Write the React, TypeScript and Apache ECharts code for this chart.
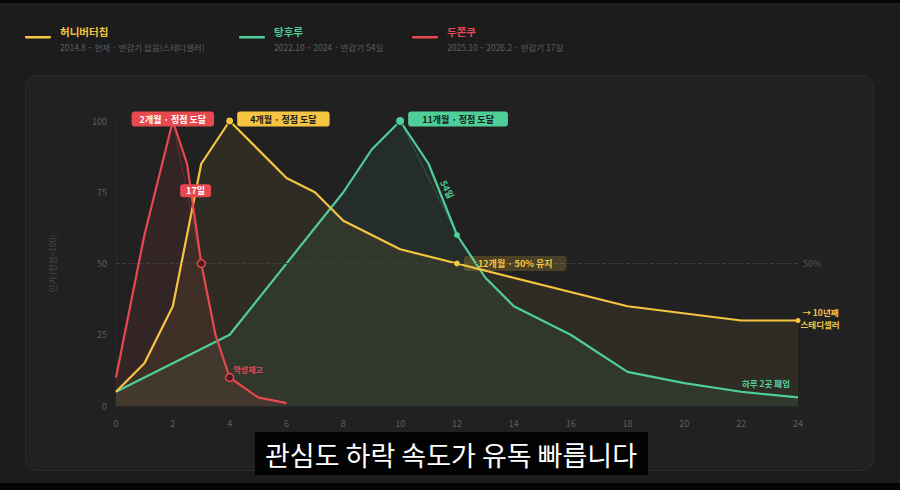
import * as echarts from "echarts";
import { useEffect, useRef } from "react";

// 허니버터칩
const honeyMonths = [0, 1, 2, 3, 4, 6, 7, 8, 10, 12, 18, 22, 24];
const honeyValues = [5, 15, 35, 85, 100, 80, 75, 65, 55, 50, 35, 30, 30];
// 탕후루
const tangMonths = [0, 4, 8, 9, 10, 11, 12, 13, 14, 16, 18, 20, 22, 24];
const tangValues = [5, 25, 75, 90, 100, 85, 60, 45, 35, 25, 12, 8, 5, 3];
// 두쫀쿠
const dujjonMonths = [0, 1, 2, 2.5, 3, 3.5, 4, 5, 6];
const dujjonValues = [10, 60, 100, 85, 50, 25, 10, 3, 1];

const xTicks = { min: 0, max: 24, interval: 2 };
const yTicks = { min: 0, max: 100, interval: 25 };

// 주석 위치
const peakPoints = [
  [2, 100],
  [4, 100],
  [10, 100],
];
const peakLabels = ["2개월 · 정점 도달", "4개월 · 정점 도달", "11개월 · 정점 도달"];
const halfPoints = [
  [3, 50], // 두쫀쿠 50%
  [12, 60], // 탕후루 54일
  [12, 50], // 허니버터칩 12개월
];
const halfTagPoints = [
  [2.8, 75.5],
  [11.65, 76],
];
const halfTagLabels = ["17일", "54일"];
const stockPoint = [4, 10];
const steadyPoint = [24, 30];
const closePoint = [24, 3];

const YELLOW = "#f5c542";
const GREEN = "#4fcf97";
const RED = "#e8484f";

const legendItems = [
  { name: "허니버터칩", sub: "2014.8 ~ 현재 · 반감기 없음(스테디셀러)", color: YELLOW, x: 25 },
  { name: "탕후루", sub: "2022.10 ~ 2024 · 반감기 54일", color: GREEN, x: 239 },
  { name: "두쫀쿠", sub: "2025.10 ~ 2026.2 · 반감기 17일", color: RED, x: 412 },
];

const FONT = "'Noto Sans CJK KR', 'Noto Sans', sans-serif";

const pairs = (xs: number[], ys: number[]) => xs.map((x, i) => [x, ys[i]]);

const App = () => {
  const chartRef = useRef<HTMLDivElement | null>(null);

  useEffect(() => {
    const chart = echarts.init(chartRef.current!, null, { renderer: "svg" });

    const lineSeries = (name: string, color: string, data: number[][], extra: any = {}) => ({
      name,
      type: "line",
      data,
      symbol: "none",
      lineStyle: { color, width: 2.2 },
      itemStyle: { color },
      areaStyle: { color, opacity: 0.07 },
      z: 3,
      ...extra,
    });

    const tag = (bg: string, fg: string) => ({
      show: true,
      backgroundColor: bg,
      color: fg,
      fontSize: 9,
      fontWeight: "bold",
      fontFamily: FONT,
      borderRadius: 3,
      padding: [3, 8],
    });

    // 산점 주석 (불투명도 1)
    const note = (data: number[][], size: number, item: any, label: any) => ({
      type: "scatter",
      z: 10,
      symbolSize: size,
      data,
      itemStyle: { opacity: 1, ...item },
      label,
    });

    const legendGraphics: any[] = [];
    legendItems.forEach((it) => {
      legendGraphics.push(
        { type: "rect", shape: { x: it.x, y: 36, width: 26, height: 2.6, r: 1 }, style: { fill: it.color } },
        {
          type: "text",
          x: it.x + 35,
          y: 31,
          style: { text: it.name, fill: it.color, font: `bold 10.5px ${FONT}`, verticalAlign: "middle" },
        },
        {
          type: "text",
          x: it.x + 35,
          y: 47,
          style: { text: it.sub, fill: "#5f5f5f", font: `8.5px ${FONT}`, verticalAlign: "middle" },
        }
      );
    });

    const option = {
      animation: false,
      backgroundColor: "#1c1c1c",
      textStyle: { fontFamily: FONT },
      grid: { left: 116, right: 102, top: 121, bottom: 84 },
      xAxis: {
        type: "value",
        ...xTicks,
        axisLine: { show: true, lineStyle: { color: "#2a2a2a" } },
        axisTick: { show: false },
        splitLine: { show: false },
        axisLabel: { color: "#5e5e5e", fontSize: 9, margin: 13 },
      },
      yAxis: {
        type: "value",
        ...yTicks,
        name: "인기 (정점=100)",
        nameLocation: "middle",
        nameGap: 60,
        nameTextStyle: { color: "#4a4a4a", fontSize: 8.5 },
        axisLine: { show: true, lineStyle: { color: "#2a2a2a" } },
        axisTick: { show: false },
        splitLine: { show: false },
        axisLabel: { color: "#5e5e5e", fontSize: 9, margin: 9 },
      },
      graphic: [
        { type: "rect", z: -10, shape: { x: 0, y: 0, width: 900, height: 3 }, style: { fill: "#050505" } },
        { type: "rect", z: -10, shape: { x: 0, y: 483, width: 900, height: 7 }, style: { fill: "#050505" } },
        {
          type: "rect",
          z: -10,
          shape: { x: 25.5, y: 75.5, width: 848, height: 395, r: 12 },
          style: { fill: "#212121", stroke: "#2c2c2c", lineWidth: 1 },
        },
        ...legendGraphics,
        {
          type: "rect",
          z: 50,
          shape: { x: 255, y: 432, width: 393, height: 43 },
          style: { fill: "rgba(0,0,0,0.92)" },
        },
        {
          type: "text",
          z: 51,
          x: 451,
          y: 454,
          style: {
            text: "관심도 하락 속도가 유독 빠릅니다",
            fill: "#ffffff",
            font: `27px ${FONT}`,
            align: "center",
            verticalAlign: "middle",
          },
        },
      ],
      series: [
        lineSeries("탕후루", GREEN, pairs(tangMonths, tangValues), {
          markLine: {
            silent: true,
            symbol: "none",
            label: { show: false },
            lineStyle: { color: "rgba(79,207,151,0.55)", type: "dotted", width: 1 },
            data: [[{ coord: peakPoints[2] }, { coord: halfPoints[1] }]],
          },
        }),
        lineSeries("허니버터칩", YELLOW, pairs(honeyMonths, honeyValues), {
          markLine: {
            silent: true,
            symbol: "none",
            lineStyle: { color: "#3c3c3c", type: "dashed", width: 1 },
            label: { show: true, position: "end", formatter: "50%", color: "#555", fontSize: 9 },
            data: [{ yAxis: 50 }],
          },
        }),
        lineSeries("두쫀쿠", RED, pairs(dujjonMonths, dujjonValues), {
          areaStyle: { color: RED, opacity: 0.09 },
          markLine: {
            silent: true,
            symbol: "none",
            label: { show: false },
            lineStyle: { color: "rgba(232,72,79,0.6)", type: "dotted", width: 1 },
            data: [[{ coord: peakPoints[0] }, { coord: halfPoints[0] }]],
          },
        }),
        // 정점 라벨
        note([peakPoints[0]], 0, { color: RED }, {
          ...tag(RED, "#ffffff"),
          position: "inside",
          offset: [0, -2],
          formatter: peakLabels[0],
        }),
        note([peakPoints[1]], 8, { color: YELLOW, borderColor: "#1c1c1c", borderWidth: 1 }, {
          ...tag(YELLOW, "#1a1a1a"),
          padding: [3, 13],
          position: "right",
          distance: 3,
          offset: [0, -2],
          formatter: peakLabels[1],
        }),
        note([peakPoints[2]], 9, { color: GREEN, borderColor: "#1c1c1c", borderWidth: 1 }, {
          ...tag(GREEN, "#1a1a1a"),
          padding: [3, 14],
          position: "right",
          distance: 3,
          offset: [0, -2],
          formatter: peakLabels[2],
        }),
        // 반감 지점
        note([halfPoints[0]], 8, { color: "#4a1a1d", borderColor: RED, borderWidth: 1.5 }, { show: false }),
        note([halfPoints[1]], 6, { color: GREEN }, { show: false }),
        note([halfPoints[2]], 6, { color: YELLOW }, {
          ...tag("rgba(245,197,66,0.2)", YELLOW),
          padding: [3, 14],
          position: "right",
          distance: 4,
          formatter: "12개월 · 50% 유지",
        }),
        note([halfTagPoints[0]], 0, { color: RED }, {
          ...tag(RED, "#ffffff"),
          padding: [2, 6],
          position: "inside",
          formatter: halfTagLabels[0],
        }),
        note([halfTagPoints[1]], 0, { color: GREEN }, {
          show: true,
          position: "inside",
          rotate: -64,
          color: GREEN,
          fontSize: 9,
          fontWeight: "bold",
          formatter: halfTagLabels[1],
        }),
        // 악성재고
        note([stockPoint], 8, { color: "#4a1a1d", borderColor: RED, borderWidth: 1.5 }, {
          show: true,
          position: "right",
          distance: 0,
          offset: [-1, -8],
          color: RED,
          fontSize: 8,
          fontWeight: "bold",
          formatter: "악성재고",
        }),
        // 스테디셀러
        note([steadyPoint], 5, { color: YELLOW }, {
          show: true,
          position: "right",
          distance: 0,
          offset: [0, -3],
          color: YELLOW,
          fontSize: 8.5,
          lineHeight: 12,
          fontWeight: "bold",
          formatter: " → 10년째\n스테디셀러",
        }),
        // 하루 2곳 폐업
        note([closePoint], 0, { color: GREEN }, {
          show: true,
          position: "left",
          distance: 8,
          offset: [0, -14],
          color: GREEN,
          fontSize: 8.5,
          fontWeight: "bold",
          formatter: "하루 2곳 폐업",
        }),
      ],
    };

    chart.setOption(option);

    return () => {
      chart.dispose();
    };
  }, []);

  return (
    <div
      ref={chartRef}
      style={{ position: "fixed", left: 0, top: 0, width: "900px", height: "490px" }}
    />
  );
};

export default App;
